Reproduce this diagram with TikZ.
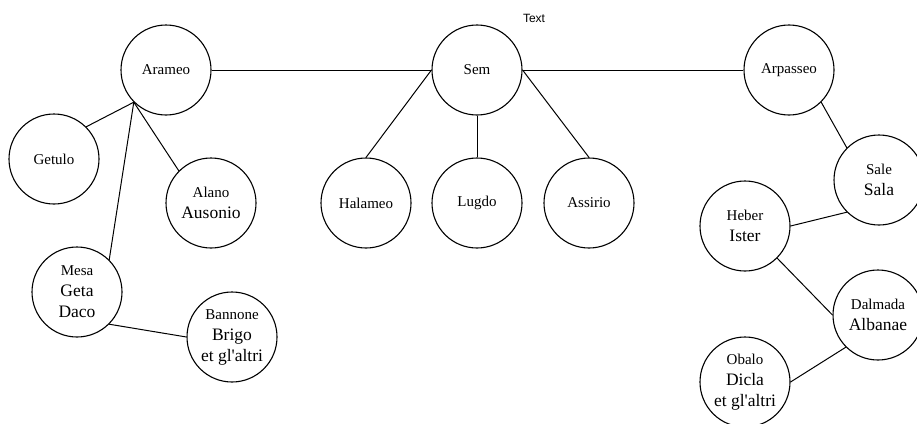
\documentclass[tikz,border=0pt]{standalone}
\usepackage{fontspec}
\setmainfont{Liberation Serif}
\newfontfamily\plainserif{Liberation Serif}
\newfontfamily\labelsans{Liberation Sans}
\newcommand{\firstln}[1]{{\fontsize{15}{18}\selectfont #1}}
\newcommand{\sq}{{\plainserif '}}
\begin{document}
\begin{tikzpicture}[x=1pt,y=-1pt,
  circ/.style={draw, circle, line width=1.1pt, minimum size=90pt, inner sep=0pt, align=center,
    font=\fontsize{17.5}{21}\selectfont},
  single/.style={circ, font=\fontsize{15}{18}\selectfont},
  link/.style={draw, line width=1pt}]
\useasboundingbox (0,0) rectangle (917,423);
\node[font=\labelsans\fontsize{12}{14}\selectfont] (title) at (534,18) {Text};
\node[single] (arameo) at (166,70) {Arameo};
\node[single] (sem) at (477,70) {Sem};
\node[single] (arpasseo) at (789,70) {Arpasseo};
\node[single] (getulo) at (54,159) {Getulo};
\node[circ] (alano) at (211,203) {\firstln{Alano}\\Ausonio};
\node[single] (halameo) at (366,203) {Halameo};
\node[single] (lugdo) at (477,203) {Lugdo};
\node[single] (assirio) at (589,203) {Assirio};
\node[circ] (mesa) at (77,292) {\firstln{Mesa}\\Geta\\Daco};
\node[circ] (bannone) at (232,337) {\firstln{Bannone}\\Brigo\\et gl\sq altri};
\node[circ] (sale) at (879,180) {\firstln{Sale}\\Sala};
\node[circ] (heber) at (745,226) {\firstln{Heber}\\Ister};
\node[circ] (dalmada) at (878,315) {\firstln{Dalmada}\\Albanae};
\node[circ] (obalo) at (745,382) {\firstln{Obalo}\\Dicla\\et gl\sq altri};
\draw[link] (arameo.east) -- (sem.west);
\draw[link] (sem.east) -- (arpasseo.west);
\draw[link] (sem.west) -- (halameo.north);
\draw[link] (sem.south) -- (lugdo.north);
\draw[link] (sem.east) -- (assirio.north);
\draw[link] (arameo.south west) -- (getulo.north east);
\draw[link] (arameo.south west) -- (mesa.north east);
\draw[link] (arameo.south west) -- (alano.north west);
\draw[link] (mesa.south east) -- (bannone.west);
\draw[link] (arpasseo.south east) -- (sale.north west);
\draw[link] (sale.south west) -- (heber.east);
\draw[link] (heber.south east) -- (dalmada.west);
\draw[link] (dalmada.south west) -- (obalo.east);
\end{tikzpicture}
\end{document}
